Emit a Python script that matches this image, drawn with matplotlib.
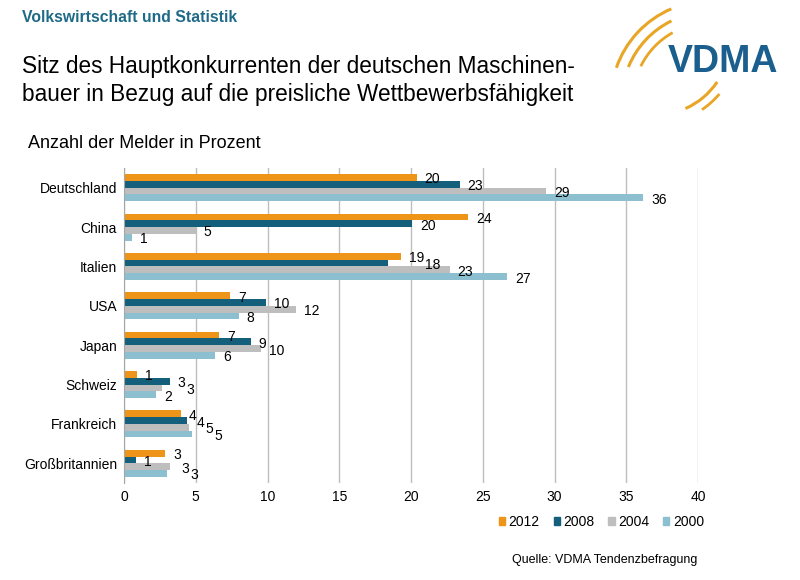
import numpy as np
import matplotlib
matplotlib.use("Agg")
import matplotlib.pyplot as plt
from matplotlib.patches import Arc, Rectangle

plt.rcParams["font.family"] = ["Liberation Sans", "DejaVu Sans"]

# Data
countries = ["Deutschland", "China", "Italien", "USA", "Japan", "Schweiz",
             "Frankreich", "Großbritannien"]
years = ["2012", "2008", "2004", "2000"]
v2012 = [20.4, 24.0, 19.3, 7.4, 6.65, 0.93, 3.95, 2.88]
v2008 = [23.4, 20.1, 18.4, 9.9, 8.84, 3.19, 4.37, 0.86]
v2004 = [29.4, 5.0, 22.7, 12.0, 9.56, 2.67, 4.51, 3.19]
v2000 = [36.2, 0.58, 26.7, 8.0, 6.35, 2.23, 4.74, 3.0]
colors = ["#EE9419", "#135F7C", "#BEBEBE", "#8CBFCF"]

series = [v2012, v2008, v2004, v2000]

fig = plt.figure(figsize=(8, 5.8), dpi=100)

# Header texts
fig.text(22 / 800, 1 - 18 / 580, "Volkswirtschaft und Statistik", color="#1E6A87",
         fontsize=11.3, fontweight="bold", va="center", ha="left")
fig.text(22 / 800, 1 - 67 / 580, "Sitz des Hauptkonkurrenten der deutschen Maschinen-",
         fontsize=16.3, va="center", ha="left")
fig.text(22 / 800, 1 - 95 / 580, "bauer in Bezug auf die preisliche Wettbewerbsfähigkeit",
         fontsize=16.3, va="center", ha="left")
fig.text(28 / 800, 1 - 143 / 580, "Anzahl der Melder in Prozent",
         fontsize=13, va="center", ha="left")

# Logo
lax = fig.add_axes([600 / 800, 1 - 120 / 580, 200 / 800, 120 / 580])
lax.set_xlim(600, 800)
lax.set_ylim(0, 120)
lax.axis("off")
for r, t1, t2, lw in [(99, 113, 161, 2.2), (88, 116, 158, 2.2), (77, 119, 154, 2.0)]:
    lax.add_patch(Arc((710, 20), 2 * r, 2 * r, theta1=t1, theta2=t2,
                      color="#E9A526", lw=lw))
for r, t1, t2, lw in [(75, -66, -34, 2.2), (84, -56, -40, 2.0)]:
    lax.add_patch(Arc((655, 80), 2 * r, 2 * r, theta1=t1, theta2=t2,
                      color="#E9A526", lw=lw))
lax.text(723, 58, "VDMA", color="#1A5F8D", fontsize=27, fontweight="bold",
         ha="center", va="center")

# Main chart
ax = fig.add_axes([124 / 800, 1 - 483 / 580, (698 - 124) / 800, 315 / 580])
y = np.arange(len(countries))
h = 0.172
digit_w = 0.54  # approx width of one digit in x-units at fontsize 10
placed = [[] for _ in countries]  # label boxes per group, to stagger overlapping ones
for i, (vals, col, yr) in enumerate(zip(series, colors, years)):
    pos = y + (i - 1.5) * h
    ax.barh(pos, vals, height=h, color=col, label=yr)
    for g, (p, v) in enumerate(zip(pos, vals)):
        lab = f"{v:.0f}"
        x0 = v + 0.55
        ly = p + 0.05
        moved = True
        while moved:
            moved = False
            x1 = x0 + digit_w * len(lab)
            for (a0, a1, py) in placed[g]:
                if a0 < x1 and x0 < a1 and abs(ly - py) < 0.4:
                    x0 = a1 + 0.05
                    moved = True
        x1 = x0 + digit_w * len(lab)
        placed[g].append((x0, x1, ly))
        ax.text(x0, ly, lab, fontsize=10, va="center", ha="left")

ax.set_xlim(0, 40)
ax.set_ylim(len(countries) - 0.5, -0.5)
ax.set_xticks(np.arange(0, 41, 5))
ax.set_yticks(y)
ax.set_yticklabels(countries)
ax.tick_params(length=0, labelsize=10, pad=5)
ax.xaxis.grid(True, color="#BDBDBD", lw=1)
ax.set_axisbelow(True)
for s in ["top", "right", "bottom"]:
    ax.spines[s].set_visible(False)
ax.spines["left"].set_color("#A6A6A6")

handles = [Rectangle((0, 0), 1, 1, color=c) for c in colors]
fig.legend(handles, years, loc="center right", bbox_to_anchor=(711 / 800, 1 - 522 / 580),
           ncol=4, frameon=False, fontsize=10, handlelength=0.45, handleheight=0.45,
           handletextpad=0.25, columnspacing=1.0, borderpad=0)

fig.text(697 / 800, 1 - 560 / 580, "Quelle: VDMA Tendenzbefragung", fontsize=9,
         ha="right", va="center")

fig.savefig("out.png", dpi=100)
